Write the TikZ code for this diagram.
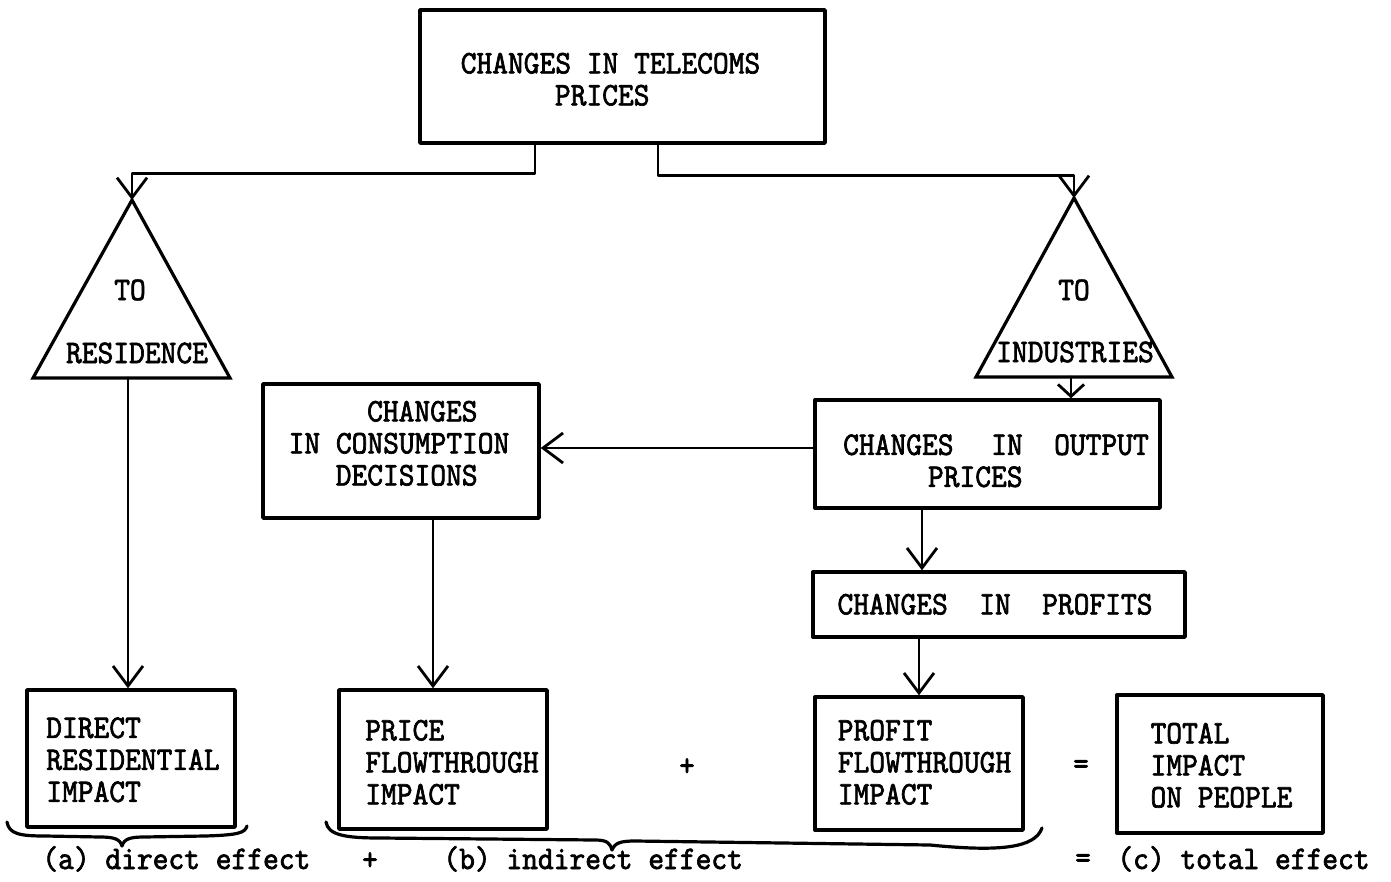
\documentclass[tikz,border=0pt]{standalone}
\usepackage{fontspec}
\setmonofont{lmmono10-regular.otf}[FakeBold=2,FakeStretch=0.91]
\usetikzlibrary{arrows.meta,calc}
\newlength\cw
\setlength\cw{7.85pt}
\newcommand\diafont{\ttfamily\fontsize{16.5}{16}\selectfont}
\newcommand\lead[1]{\hspace*{#1\cw}}
\newcommand\gap[1]{\hspace{#1\cw}}
\newcommand\boxtext[3]{{\kern#1\raisebox{-#2}[\height][\depth]{\begin{tabular}{@{}l@{}}#3\end{tabular}}\kern-#1}}
\tikzset{
  box/.style={draw, line width=1.7pt, rectangle, inner sep=0pt, font=\diafont},
  lbl/.style={inner sep=0pt, font=\diafont},
  conn/.style={line width=1.4pt, -{Straight Barb[length=10pt,width=15pt]}},
  shortconn/.style={line width=1.4pt, -{Straight Barb[length=6pt,width=13pt]}},
  tri/.style={draw, line width=1.6pt, line join=miter},
  brace/.style={line width=1.6pt}
}
\begin{document}
\begin{tikzpicture}[x=0.5pt,y=-0.5pt,line cap=round,line join=round]
\useasboundingbox (0,0) rectangle (1391,882);
\fill[white] (0,0) rectangle (1391,882);

% boxes
\node[box, minimum width=202.5pt, minimum height=66.5pt] (top) at (622.5,76.5)
  {\boxtext{-6pt}{3.25pt}{CHANGES IN TELECOMS\\\lead{6}PRICES}};
\node[box, minimum width=138pt, minimum height=67pt] (cons) at (401,451)
  {\boxtext{-1pt}{-2pt}{\lead{5}CHANGES\\IN CONSUMPTION\\\lead{3}DECISIONS}};
\node[box, minimum width=172.5pt, minimum height=54pt] (outp) at (987.5,454)
  {\boxtext{4.25pt}{5.25pt}{CHANGES\gap{2.4}IN\gap{2}OUTPUT\\\lead{5.4}PRICES}};
\node[box, minimum width=186pt, minimum height=32.5pt] (prof) at (999,604.5)
  {\boxtext{-2pt}{1.75pt}{CHANGES\gap{2}IN\gap{2}PROFITS}};
\node[box, minimum width=104pt, minimum height=68.5pt] (direct) at (131,758.5)
  {\boxtext{1pt}{2.5pt}{DIRECT\\RESIDENTIAL\\IMPACT}};
\node[box, minimum width=104pt, minimum height=69.5pt] (price) at (443,759.5)
  {\boxtext{4.5pt}{3.25pt}{PRICE\\FLOWTHROUGH\\IMPACT}};
\node[box, minimum width=104pt, minimum height=66.5pt] (profit) at (919,763.5)
  {\boxtext{2.75pt}{1.25pt}{PROFIT\\FLOWTHROUGH\\IMPACT}};
\node[box, minimum width=103pt, minimum height=69pt] (total) at (1220,764)
  {\boxtext{0.75pt}{2.5pt}{TOTAL\\IMPACT\\ON PEOPLE}};

% triangles
\coordinate (resApex) at (132,200);
\coordinate (resBL) at (33,378);
\coordinate (resBR) at (230,378);
\coordinate (resBase) at (128,378);
\draw[tri] (resApex) -- (resBR) -- (resBL) -- cycle;
\node[lbl] (resTo) at (130,290) {TO};
\node[lbl] (resLbl) at (137,353) {RESIDENCE};

\coordinate (indApex) at (1074,198);
\coordinate (indBL) at (976,377);
\coordinate (indBR) at (1172,377);
\coordinate (indBase) at (1071,377);
\draw[tri] (indApex) -- (indBR) -- (indBL) -- cycle;
\node[lbl] (indTo) at (1074,290) {TO};
\node[lbl] (indLbl) at (1075,352) {INDUSTRIES};

% connectors
\coordinate (topL) at ([xshift=-43.75pt]top.south);
\coordinate (topR) at ([xshift=17.75pt]top.south);
\draw[conn] (topL) -- ++(0,29) -| (resApex);
\draw[conn] (topR) -- ++(0,31) -| (indApex);
\draw[conn] (resBase) -- (resBase |- direct.north);
\draw[shortconn] (indBase) -- (indBase |- outp.north);
\coordinate (outpW) at ([yshift=3pt]outp.west);
\draw[conn] (outpW) -- (outpW -| cons.east);
\coordinate (consS) at ([xshift=16pt]cons.south);
\draw[conn] (consS) -- (consS |- price.north);
\coordinate (outpS) at ([xshift=-32.75pt]outp.south);
\draw[conn] (outpS) -- (outpS |- prof.north);
\coordinate (profS) at ([xshift=-40pt]prof.south);
\draw[conn] (profS) -- (profS |- profit.north);

% operators
\node[lbl] (plus1) at (687,767) {+};
\node[lbl] (eq1) at (1081,767) {=};

% braces
\draw[brace] (7,822) .. controls (9,834) and (20,836) .. (45,836) -- (100,837)
  .. controls (114,837) and (120,839) .. (122,846)
  .. controls (124,839) and (130,837) .. (144,837) -- (205,836)
  .. controls (238,835) and (245,833) .. (247,826);
\draw[brace] (326,822) .. controls (328,835) and (345,838) .. (380,838) -- (595,840)
  .. controls (607,840) and (610,843) .. (612,850)
  .. controls (615,843) and (620,841) .. (635,841) -- (930,845)
  .. controls (1000,852) and (1035,848) .. (1042,828);

% bottom labels
\node[lbl, anchor=base west] (ea) at (42,869) {(a) direct effect};
\node[lbl] (plus2) at (370,861) {+};
\node[lbl, anchor=base west] (eb) at (443,869) {(b) indirect effect};
\node[lbl] (eq2) at (1083,861) {=};
\node[lbl, anchor=base west] (ec) at (1117,869) {(c) total effect};
\end{tikzpicture}
\end{document}
